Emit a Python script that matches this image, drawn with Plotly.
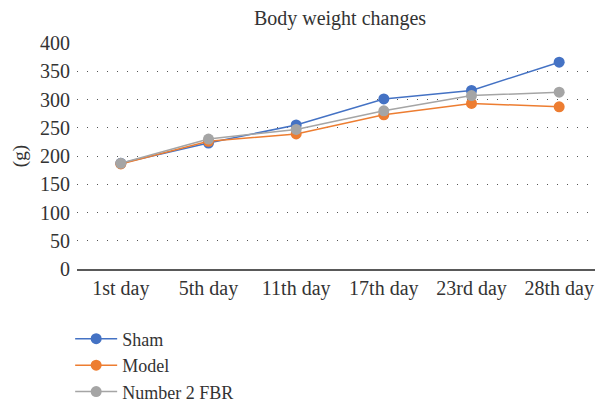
import plotly.graph_objects as go

days = ["1st day", "5th day", "11th day", "17th day", "23rd day", "28th day"]
sham = [187, 223, 255, 301, 316, 366]
model = [186, 226, 239, 273, 293, 287]
fbr = [187, 230, 247, 280, 307, 313]
yticks = [0, 50, 100, 150, 200, 250, 300, 350, 400]

font = "Liberation Serif, DejaVu Serif, serif"
fs = 20
fig = go.Figure()
for name, vals, col in [("Sham", sham, "#4472C4"), ("Model", model, "#ED7D31"), ("Number 2 FBR", fbr, "#A5A5A5")]:
    fig.add_trace(go.Scatter(x=list(range(len(days))), y=vals, name=name, mode="lines+markers",
                             line=dict(color=col, width=1.5), marker=dict(color=col, size=11)))

fig.update_layout(
    width=595, height=396, paper_bgcolor="white", plot_bgcolor="white",
    margin=dict(l=69, r=0, t=35, b=135, autoexpand=False),
    font=dict(family=font, size=fs, color="#333333"),
    title=dict(text="Body weight changes", x=0.558, xanchor="center", y=0.975, yanchor="middle",
               font=dict(family=font, size=fs, color="#333333")),
    showlegend=True,
    legend=dict(x=-0.013, xanchor="left", y=-0.228, yanchor="top", orientation="v",
                font=dict(family=font, size=18, color="#333333"), tracegroupgap=0,
                itemwidth=42, bgcolor="rgba(0,0,0,0)"),
    annotations=[dict(text="(g)", xref="paper", yref="paper", x=-0.108, y=0.5, textangle=-90,
                      showarrow=False, xanchor="center", yanchor="middle",
                      font=dict(family=font, size=19, color="#333333"))],
)
fig.update_xaxes(range=[-0.5, 5.5], tickmode="array", tickvals=list(range(len(days))), ticktext=days,
                 showgrid=False, zeroline=False, showline=True, linecolor="#595959", linewidth=2,
                 ticks="", tickfont=dict(size=fs), automargin=False)
fig.update_yaxes(range=[0, 400], tickvals=yticks, showgrid=True, gridcolor="#555555", gridwidth=1,
                 griddash="1px,9px", zeroline=False, showline=False, ticks="", automargin=False,
                 ticklabelstandoff=6, tickfont=dict(size=fs))
fig.write_html("out.html")
